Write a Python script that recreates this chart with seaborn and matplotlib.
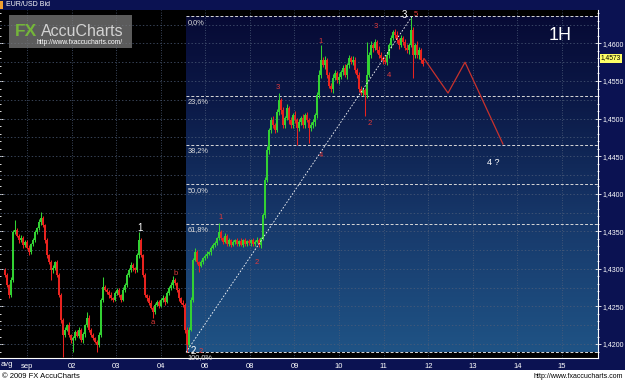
import numpy as np
import matplotlib
matplotlib.use("Agg")
import matplotlib.pyplot as plt
import seaborn as sns
from matplotlib.patches import Rectangle
from matplotlib.ticker import MultipleLocator, FuncFormatter

sns.set_style("dark")
plt.rcParams['font.family'] = ['Liberation Sans', 'DejaVu Sans']

# velas EUR/USD (pips acima de 1,0000 -> 4292 = 1,4292)
abertura_inicial = 4298
fechamento = [
    4292, 4278, 4265, 4285, 4349, 4352, 4344, 4338, 4341, 4332, 4336, 4328, 4322, 4333, 4338,
    4349, 4354, 4362, 4368, 4358, 4338, 4318, 4309, 4298, 4301, 4309, 4292, 4265, 4232, 4212,
    4219, 4225, 4212, 4205, 4208, 4216, 4211, 4219, 4205, 4213, 4225, 4235, 4219, 4212, 4208,
    4203, 4199, 4212, 4259, 4276, 4272, 4269, 4265, 4261, 4259, 4268, 4272, 4265, 4259, 4272,
    4278, 4292, 4298, 4305, 4301, 4298, 4318, 4338, 4318, 4292, 4265, 4261, 4255, 4248, 4243,
    4252, 4256, 4251, 4259, 4261, 4256, 4268, 4274, 4278, 4285, 4281, 4272, 4261, 4255, 4252,
    4219, 4199, 4219, 4259, 4312, 4322, 4309, 4304, 4309, 4314, 4317, 4320, 4322, 4328, 4332,
    4334, 4341, 4349, 4341, 4336, 4344, 4333, 4338, 4332, 4336, 4338, 4333, 4337, 4332, 4338,
    4333, 4337, 4334, 4338, 4333, 4336, 4338, 4332, 4341, 4372, 4418, 4458, 4485, 4498, 4491,
    4485, 4509, 4525, 4511, 4491, 4501, 4514, 4498, 4491, 4505, 4498, 4487, 4495, 4501, 4491,
    4505, 4498, 4487, 4491, 4495, 4505, 4531, 4558, 4578, 4571, 4578, 4558, 4544, 4540, 4554,
    4560, 4551, 4556, 4562, 4567, 4558, 4571, 4580, 4575, 4578, 4564, 4558, 4540, 4534, 4538,
    4531, 4558, 4584, 4598, 4594, 4602, 4591, 4584, 4580, 4578, 4575, 4584, 4598, 4607, 4615,
    4611, 4604, 4598, 4607, 4602, 4594, 4591, 4598, 4618, 4584, 4598, 4584, 4591, 4578, 4573,
]
# tamanho dos pavios (pips)
pavio_sup = [
    3, 2, 2, 4, 3, 13, 3, 2, 4, 3, 2, 3, 4, 2, 3,
    3, 2, 4, 8, 3, 2, 3, 2, 3, 4, 2, 3, 2, 3, 2,
    3, 2, 4, 2, 3, 2, 3, 4, 2, 3, 2, 8, 3, 2, 3,
    2, 3, 4, 2, 13, 3, 2, 3, 4, 2, 3, 2, 3, 2, 4,
    3, 2, 3, 4, 3, 2, 3, 11, 3, 2, 3, 2, 4, 3, 2,
    3, 2, 3, 2, 4, 3, 2, 3, 4, 5, 3, 2, 3, 2, 3,
    2, 3, 4, 3, 2, 6, 3, 2, 3, 2, 3, 4, 2, 3, 2,
    3, 2, 12, 3, 2, 4, 2, 3, 2, 3, 2, 3, 2, 4, 2,
    3, 2, 3, 2, 3, 2, 4, 3, 2, 3, 4, 5, 3, 4, 6,
    3, 4, 9, 3, 4, 3, 5, 3, 4, 3, 5, 3, 4, 3, 5,
    3, 4, 3, 4, 5, 3, 4, 6, 20, 4, 5, 3, 4, 3, 5,
    4, 3, 5, 3, 4, 6, 3, 4, 3, 5, 4, 3, 4, 3, 4,
    3, 44, 4, 5, 3, 4, 3, 5, 4, 3, 4, 5, 3, 4, 3,
    4, 5, 3, 4, 3, 4, 5, 3, 18, 4, 3, 5, 4, 3, 3,
]
pavio_inf = [
    3, 2, 4, 3, 2, 3, 2, 3, 2, 4, 3, 2, 3, 2, 3,
    2, 3, 2, 3, 2, 4, 3, 2, 13, 3, 2, 3, 2, 4, 29,
    3, 2, 3, 4, 16, 3, 2, 3, 2, 3, 4, 2, 3, 2, 3,
    2, 10, 3, 2, 3, 2, 3, 4, 2, 3, 2, 3, 2, 3, 2,
    3, 2, 3, 2, 4, 3, 2, 3, 2, 3, 2, 4, 3, 2, 8,
    3, 2, 3, 2, 3, 4, 2, 3, 2, 3, 2, 3, 4, 2, 3,
    4, 10, 3, 2, 3, 2, 3, 8, 2, 3, 2, 3, 2, 3, 2,
    3, 2, 3, 2, 3, 2, 3, 2, 3, 2, 3, 2, 3, 2, 3,
    2, 3, 2, 3, 2, 3, 2, 3, 4, 3, 4, 3, 5, 4, 3,
    4, 3, 4, 5, 3, 4, 3, 5, 4, 3, 4, 22, 3, 4, 3,
    4, 3, 20, 4, 3, 5, 4, 3, 4, 3, 5, 4, 3, 4, 6,
    3, 4, 5, 3, 4, 3, 5, 4, 3, 4, 3, 4, 5, 3, 4,
    28, 4, 3, 4, 5, 3, 4, 3, 4, 5, 3, 4, 3, 4, 3,
    4, 3, 5, 3, 4, 3, 4, 5, 3, 30, 4, 3, 5, 4, 3,
]
# tempo em dias (0 = 1 de setembro), primeira vela e passo
inicio = -0.4935
passo = 0.04486

# eixo x
dias_labels = ['sep', '02', '03', '04', '06', '08', '09', '10', '11', '12', '13', '14', '15']

# fibonacci
fib_ini = 3.567
nivel_0 = 1.4636
nivel_100 = 1.4189
fib_pct = [0, 23.6, 38.2, 50, 61.8, 100]
fib_txt = ['0,0%', '23,6%', '38,2%', '50,0%', '61,8%', '100,0%']

# projecao da onda 4
proj_x = [8.905, 9.444, 9.825, 10.677]
proj_y = [1.4580, 1.4534, 1.4575, 1.4466]

# rotulos de ondas (x, y, texto, cor, tamanho)
ondas = [
    (2.535, 1.4354, '1', 'white', 7),
    (2.826, 1.4228, 'a', '#e03a3a', 5.5),
    (3.342, 1.4294, 'b', '#e03a3a', 5.5),
    (3.724, 1.4191, '2', 'white', 7),
    (3.896, 1.4190, '2', '#e03a3a', 5.5),
    (4.352, 1.4369, '1', '#e03a3a', 5.5),
    (5.159, 1.4309, '2', '#e03a3a', 5.5),
    (5.630, 1.4542, '3', '#e03a3a', 5.5),
    (6.595, 1.4451, '4', '#e03a3a', 5.5),
    (6.595, 1.4602, '1', '#e03a3a', 5.5),
    (7.694, 1.4494, '2', '#e03a3a', 5.5),
    (7.829, 1.4623, '3', '#e03a3a', 5.5),
    (8.120, 1.4558, '4', '#e03a3a', 5.5),
    (8.457, 1.4638, '3', 'white', 7),
    (8.726, 1.4638, '5', '#e03a3a', 5.5),
    (10.45, 1.4441, '4 ?', 'white', 6.5),
]

W, H = 625, 382
fig = plt.figure(figsize=(W / 100, H / 100), dpi=100, facecolor='#0b1252')
ax = fig.add_axes([0, 1 - 358 / H, 598 / W, (358 - 10) / H])
ax.set_facecolor('black')

xmin, xmax = -0.6057, 12.808
ax.set_xlim(xmin, xmax)
ax.set_ylim(1.41814, 1.46445)

# fundo degrade da zona de fibonacci
t = np.linspace(0, 1, 300)
pts = [0, .236, .382, .5, .618, 1]
cores_fundo = ['#070a35', '#0b1846', '#0f2453', '#132e5f', '#17396b', '#1f5385']
rgb = np.array([matplotlib.colors.to_rgb(c) for c in cores_fundo])
grad = np.stack([np.interp(t, pts, rgb[:, k]) for k in range(3)], axis=1)[:, None, :]
ax.imshow(grad, extent=[fib_ini, xmax, nivel_100, nivel_0], aspect='auto',
          origin='upper', zorder=0, interpolation='bilinear')

# grade
for d in range(13):
    ax.axvline(d, color='#4e5e7a', ls=(0, (1, 2)), lw=0.6, zorder=1)
for yv in np.arange(1.4200, 1.4650, 0.0025):
    ax.axhline(yv, color='#4e5e7a', ls=(0, (2, 3)), lw=0.5, zorder=1)

# linhas de fibonacci
faixa = nivel_0 - nivel_100
for pct, txt in zip(fib_pct, fib_txt):
    nv = nivel_0 - pct / 100 * faixa
    ax.hlines(nv, fib_ini, xmax, color='#d8d8d8', ls=(0, (3, 2)), lw=0.7, zorder=2)
    ax.text(fib_ini + 0.03, nv - 0.0003, txt, color='#dddddd', fontsize=5.3,
            ha='left', va='top', zorder=6)

# velas
n = len(fechamento)
xs = inicio + passo * np.arange(n)
fech = 1 + np.array(fechamento) / 10000
abre = np.r_[1 + abertura_inicial / 10000, fech[:-1]]
maxi = np.maximum(abre, fech) + np.array(pavio_sup) / 10000
mini = np.minimum(abre, fech) - np.array(pavio_inf) / 10000
cores = np.where(fech >= abre, '#33d133', '#e8231f')
ax.vlines(xs, mini, maxi, colors=cores, lw=0.75, zorder=3)
ax.bar(xs, np.maximum(np.abs(fech - abre), 0.00012), bottom=np.minimum(abre, fech),
       width=passo * 0.8, color=cores, lw=0, zorder=4)

# linha de tendencia e projecao
ax.plot([fib_ini, 8.636], [nivel_100, nivel_0], color='white', ls=(0, (2, 2)), lw=0.6, zorder=5)
sns.lineplot(x=proj_x, y=proj_y, color='#c8322d', lw=0.9, ax=ax, sort=False, zorder=5)

for x, y, s, c, fs in ondas:
    ax.text(x, y, s, color=c, fontsize=fs, ha='center', va='center', zorder=7)
ax.text(11.96, 1.4610, '1H', color='white', fontsize=13, ha='center', va='center', zorder=7)

# eixos
ax.set_xticks(range(13))
ax.set_xticklabels(dias_labels)
ax.tick_params(axis='x', colors='white', labelsize=5.5, length=2, pad=1.5, width=0.6)
ax.yaxis.set_major_locator(MultipleLocator(0.005))
ax.yaxis.set_minor_locator(MultipleLocator(0.001))
ax.yaxis.set_major_formatter(FuncFormatter(lambda v, _: f'{v:.4f}'.replace('.', ',')))
ax.tick_params(axis='y', which='both', left=True, right=True, labelleft=False,
               labelright=True, colors='white', direction='inout', width=0.6)
ax.tick_params(axis='y', which='major', length=4, labelsize=5, pad=1.5)
ax.tick_params(axis='y', which='minor', length=2)
ax.grid(False)
for lado in ['top', 'left']:
    ax.spines[lado].set_visible(False)
for lado in ['bottom', 'right']:
    ax.spines[lado].set_visible(True)
    ax.spines[lado].set_color('white')
    ax.spines[lado].set_linewidth(0.8)
ax.set_xlabel('')
ax.set_ylabel('')

# cabecalho e rodape
fig.add_artist(Rectangle((0, 0), 1, 12 / H, transform=fig.transFigure,
                         facecolor='white', edgecolor='none', zorder=5))
fig.add_artist(Rectangle((0, 1 - 9 / H), 3 / W, 8 / H, transform=fig.transFigure,
                         facecolor='#f0a030', edgecolor='none', zorder=5))
fig.text(6 / W, 1 - 5 / H, 'EUR/USD Bid', color='white', fontsize=5, va='center')
fig.text(7 / W, 1 - 365 / H, 'avg', color='white', fontsize=5.5, ha='center', va='center')
fig.text(2 / W, 1 - 376 / H, '© 2009 FX AccuCharts', color='black', fontsize=5.5,
         va='center', zorder=6)
fig.text(623 / W, 1 - 376 / H, 'http://www.fxaccucharts.com', color='black', fontsize=5,
         ha='right', va='center', zorder=6)

# etiqueta do preco atual
fig.text(611 / W, 1 - 58 / H, '1,4573', color='black', fontsize=4.8, ha='center', va='center',
         bbox=dict(boxstyle='square,pad=0.15', facecolor='#ffff66', edgecolor='none'), zorder=6)

# marca d'agua
fig.add_artist(Rectangle((9 / W, 1 - 48 / H), 123 / W, 33 / H, transform=fig.transFigure,
                         facecolor='#7a7a7a', edgecolor='none', alpha=0.75, zorder=5))
fig.text(15 / W, 1 - 31 / H, 'FX', color='#74b53a', fontsize=12.5, fontweight='bold',
         va='center', zorder=6)
fig.text(41 / W, 1 - 31 / H, 'AccuCharts', color='#d2d2d2', fontsize=11.5, va='center', zorder=6)
fig.text(123 / W, 1 - 42 / H, 'http://www.fxaccucharts.com/', color='white', fontsize=4.8,
         ha='right', va='center', zorder=6)

fig.savefig('out.png', dpi=100, facecolor=fig.get_facecolor())
